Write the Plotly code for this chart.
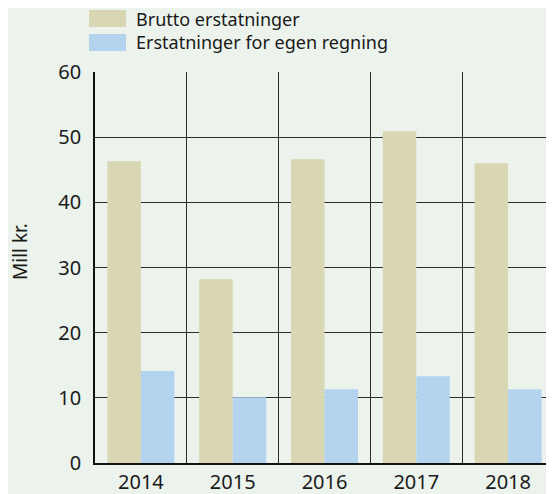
import plotly.graph_objects as go

years = ["2014", "2015", "2016", "2017", "2018"]
brutto = [46.3, 28.2, 46.6, 50.9, 46.0]
egen = [14.1, 10.1, 11.3, 13.3, 11.3]
series_names = ["Brutto erstatninger", "Erstatninger for egen regning"]
colors = ["#d9d6b3", "#b4d3ef"]
y_ticks = [0, 10, 20, 30, 40, 50, 60]

BG = "#ecf3ec"
FONT = "Noto Sans"
OFF = 8  # default page body margin

fig = go.Figure()
for name, vals, col in zip(series_names, [brutto, egen], colors):
    fig.add_trace(go.Bar(x=years, y=vals, name=name, marker=dict(color=col, line=dict(width=0)),
                         showlegend=False))

W, H = 554 - OFF, 494 - OFF
L, R, T, B = 95 - OFF, 0, 72 - OFF, 31
pw, ph = W - L - R, H - T - B

def px(x):
    return (x - OFF - L) / pw

def py(y):
    return (H - B - (y - OFF)) / ph

# custom legend
for i, (name, col) in enumerate(zip(series_names, colors)):
    y0 = 10 + i * 24
    fig.add_shape(type="rect", xref="paper", yref="paper",
                  x0=px(89), x1=px(126), y0=py(y0 + 17), y1=py(y0),
                  fillcolor=col, line=dict(width=0))
    fig.add_annotation(xref="paper", yref="paper", x=px(134), y=py(y0 + 8.5),
                       text=name, showarrow=False, xanchor="left", yanchor="middle",
                       font=dict(family=FONT, size=18, color="#1a1a1a"))

fig.add_annotation(xref="paper", yref="paper", x=px(20), y=py(252), text="Mill kr.",
                   textangle=-90, showarrow=False, xanchor="center", yanchor="middle",
                   font=dict(family=FONT, size=19, color="#1a1a1a"))

fig.update_layout(
    width=W, height=H,
    margin=dict(l=L, r=R, t=T, b=B, autoexpand=False),
    paper_bgcolor=BG, plot_bgcolor=BG,
    barmode="group", bargap=0.27, bargroupgap=0,
    font=dict(family=FONT, size=20, color="#1a1a1a"),
    xaxis=dict(type="category", tickson="boundaries", showgrid=True, gridcolor="#2b2b2b",
               gridwidth=1.3, ticks="", showline=True, linecolor="#111", linewidth=1.6,
               tickfont=dict(size=20), ticklabelstandoff=0, range=[-0.5, 4.5],
               automargin=False),
    yaxis=dict(range=[0, 60], tickvals=y_ticks, showgrid=True, gridcolor="#2b2b2b",
               gridwidth=1.3, showline=True, linecolor="#111", linewidth=1.6,
               zeroline=False, ticks="", tickfont=dict(size=20), ticklabelstandoff=8,
               automargin=False),
)

fig.write_html("out.html")
